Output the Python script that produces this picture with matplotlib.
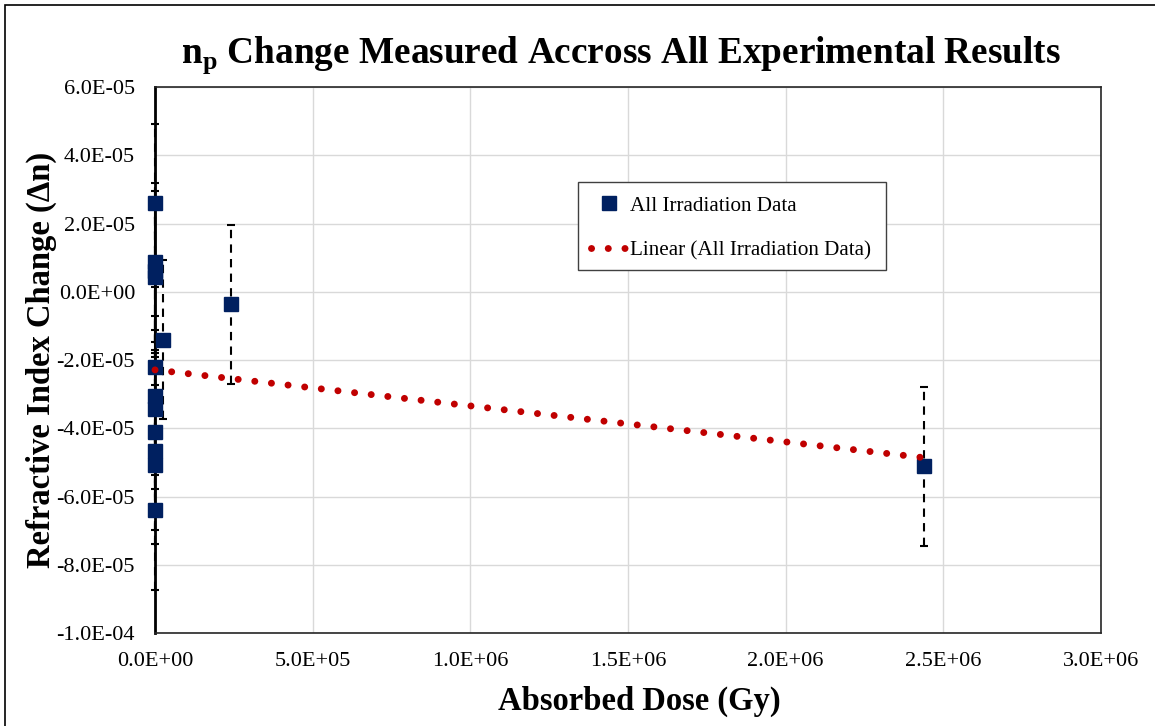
import matplotlib
matplotlib.use("Agg")
import matplotlib.pyplot as plt
from matplotlib.patches import Rectangle
import numpy as np

# Data
dose_gy = [0, 0, 0, 0, 2.4e4, 0, 0, 0, 0, 0, 0, 0, 2.4e5, 2.44e6]
delta_n = [2.60e-5, 0.86e-5, 0.62e-5, 0.42e-5, -1.41e-5, -2.20e-5, -3.05e-5,
           -3.45e-5, -4.12e-5, -4.66e-5, -5.07e-5, -6.40e-5, -0.36e-5, -5.11e-5]
delta_n_err = [2.33e-5] * len(delta_n)

trend_intercept = -2.29e-5
trend_slope = -1.055e-11
trend_x_range = [0, 2.44e6]

x_ticks = [0, 0.5e6, 1.0e6, 1.5e6, 2.0e6, 2.5e6, 3.0e6]
x_tick_labels = ["0.0E+00", "5.0E+05", "1.0E+06", "1.5E+06", "2.0E+06", "2.5E+06", "3.0E+06"]
y_ticks = [-1.0e-4, -8e-5, -6e-5, -4e-5, -2e-5, 0, 2e-5, 4e-5, 6e-5]
y_tick_labels = ["-1.0E-04", "-8.0E-05", "-6.0E-05", "-4.0E-05", "-2.0E-05",
                 "0.0E+00", "2.0E-05", "4.0E-05", "6.0E-05"]

plt.rcParams['font.family'] = ['Liberation Serif', 'DejaVu Serif']
plt.rcParams['mathtext.fontset'] = 'custom'
plt.rcParams['mathtext.rm'] = 'Liberation Serif'
plt.rcParams['mathtext.bf'] = 'Liberation Serif:bold'

W, H = 1155, 726
fig = plt.figure(figsize=(W / 100, H / 100), dpi=100)
ax = fig.add_axes([155 / W, 1 - 633 / H, (1101 - 155) / W, (633 - 87) / H])

navy = "#002060"
red = "#C00000"

# error bars
eb = ax.errorbar(dose_gy, delta_n, yerr=delta_n_err, fmt='none', ecolor='black',
                 elinewidth=1.5, capsize=3, capthick=1.5, zorder=3)
for lc in eb[2]:
    lc.set_linestyle((0, (4, 3)))
    lc.set_clip_on(False)
for cl in eb[1]:
    cl.set_clip_on(False)

# points
ax.plot(dose_gy, delta_n, linestyle='none', marker='s', markersize=10.5,
        color=navy, zorder=5, clip_on=False, label="All Irradiation Data")

# trend line (drawn over the markers, as in the reference)
tx = np.linspace(trend_x_range[0], trend_x_range[1], 200)
ty = trend_intercept + trend_slope * tx
ax.plot(tx, ty, color=red, linestyle=(0, (0.01, 2.4)), linewidth=5,
        dash_capstyle='round', solid_capstyle='round', zorder=6, clip_on=False,
        label="Linear (All Irradiation Data)")

ax.set_xlim(0, 3.0e6)
ax.set_ylim(-1.0e-4, 6.0e-5)
ax.set_xticks(x_ticks)
ax.set_xticklabels(x_tick_labels)
ax.set_yticks(y_ticks)
ax.set_yticklabels(y_tick_labels)
ax.tick_params(axis='both', length=0, labelsize=16)
ax.tick_params(axis='x', pad=14)
ax.tick_params(axis='y', pad=14.4)
ax.grid(True, color='#D9D9D9', linewidth=1)
ax.set_axisbelow(True)
for sp in ax.spines.values():
    sp.set_color('#262626')
    sp.set_linewidth(1.2)
ax.spines['left'].set_color('black')
ax.spines['left'].set_linewidth(2)

# axis titles
fig.text(639 / W, 1 - 701 / H, "Absorbed Dose (Gy)", fontsize=23.5, fontweight='bold',
         ha='center', va='center')
fig.text(41 / W, 1 - 360 / H, "Refractive Index Change (\u0394n)", fontsize=23.5,
         fontweight='bold', ha='center', va='center', rotation=90)

fig.text(0.538, 1 - 55 / H, r"n$_\mathbf{p}$ Change Measured Accross All Experimental Results",
         ha='center', va='center', fontsize=26.8, fontweight='bold')

# legend: frame drawn separately to match the reference box
handles, labels = ax.get_legend_handles_labels()
leg = fig.legend([handles[0], handles[1]], [labels[0], labels[1]],
                 loc='upper left', bbox_to_anchor=(591 / W, 1 - 196 / H),
                 fontsize=15.2, frameon=False, borderpad=0, labelspacing=1.16,
                 handlelength=1.75, handletextpad=0.1, borderaxespad=0)
fig.patches.append(Rectangle((578 / W, 1 - 270 / H), (886 - 578) / W, (270 - 182) / H,
                             transform=fig.transFigure, facecolor='white',
                             edgecolor='#404040', linewidth=1, zorder=0.5))
leg.set_zorder(7)

fig.patches.append(Rectangle((5 / W, -0.05), 1.2, 1 - 5 / H + 0.05, transform=fig.transFigure,
                             fill=False, edgecolor='black', linewidth=1.2))

fig.savefig("out.png", dpi=100)
